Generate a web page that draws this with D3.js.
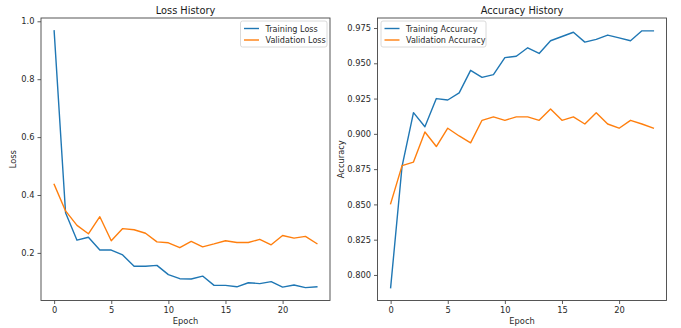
<!DOCTYPE html>
<html>
<head>
<meta charset="utf-8">
<script src="https://cdn.jsdelivr.net/npm/d3@7"></script>
<style>
  html, body { margin: 0; padding: 0; background: #fff; }
  svg { display: block; font-family: "DejaVu Sans", sans-serif; }
</style>
</head>
<body>
<svg id="chart" width="681" height="328"></svg>
<script>
// Training history, one value per epoch
const epochs = d3.range(24);
const trainLoss = [0.967, 0.339, 0.244, 0.254, 0.210, 0.210, 0.193, 0.154, 0.154, 0.157, 0.125, 0.111,
                   0.110, 0.120, 0.088, 0.088, 0.083, 0.097, 0.094, 0.101, 0.082, 0.089, 0.080, 0.083];
const valLoss = [0.437, 0.345, 0.295, 0.266, 0.325, 0.242, 0.284, 0.280, 0.268, 0.238, 0.235, 0.218,
                 0.240, 0.221, 0.231, 0.242, 0.236, 0.236, 0.247, 0.228, 0.260, 0.251, 0.257, 0.232];
const trainAcc = [0.791, 0.877, 0.915, 0.905, 0.925, 0.924, 0.929, 0.945, 0.940, 0.942, 0.954, 0.955,
                  0.961, 0.957, 0.966, 0.969, 0.972, 0.965, 0.967, 0.970, 0.968, 0.966, 0.973, 0.973];
const valAcc = [0.8505, 0.8775, 0.880, 0.9013, 0.891, 0.904, 0.8985, 0.8936, 0.9096, 0.912, 0.9096, 0.912,
                0.912, 0.9096, 0.9176, 0.9096, 0.912, 0.907, 0.915, 0.907, 0.904, 0.9096, 0.907, 0.904];
const xTicks = [0, 5, 10, 15, 20];
const lossTicks = [0.2, 0.4, 0.6, 0.8, 1.0];
const accTicks = [0.800, 0.825, 0.850, 0.875, 0.900, 0.925, 0.950, 0.975];

const BLUE = "#1f77b4", ORANGE = "#ff7f0e";
const TEXT = "#2a2a2a";
const svg = d3.select("#chart");

// 5% padding on each side of the data range
function padded(vals) {
  const [lo, hi] = d3.extent(vals);
  const m = (hi - lo) * 0.05;
  return [lo - m, hi + m];
}

function panel(opts) {
  const { left, right, top, bottom, title, ylabel, series, yTicks, yFmt, legendLeft, legendWidth } = opts;
  const g = svg.append("g");
  const x = d3.scaleLinear().domain(padded(epochs)).range([left, right]);
  const y = d3.scaleLinear().domain(padded(series.flatMap(s => s.values))).range([bottom, top]);

  // lines
  const line = d3.line().x((d, i) => x(epochs[i])).y(d => y(d));
  series.forEach(s => {
    g.append("path").datum(s.values)
      .attr("d", line)
      .attr("fill", "none")
      .attr("stroke", s.color)
      .attr("stroke-width", 1.4)
      .attr("stroke-linejoin", "round")
      .attr("stroke-linecap", "square");
  });

  // axes
  const xAxis = d3.axisBottom(x).tickValues(xTicks).tickSize(3.5).tickPadding(3).tickFormat(d3.format("d"));
  const yAxis = d3.axisLeft(y).tickValues(yTicks).tickSize(3.5).tickPadding(3).tickFormat(yFmt);
  const gx = g.append("g").attr("transform", `translate(0,${bottom})`).call(xAxis);
  const gy = g.append("g").attr("transform", `translate(${left},0)`).call(yAxis);
  [gx, gy].forEach(a => {
    a.select(".domain").remove();
    a.selectAll("line").attr("stroke", "#333").attr("stroke-width", 0.8);
    a.selectAll("text").attr("fill", TEXT).style("font-size", "8.3px").style("font-family", "DejaVu Sans");
  });

  // frame
  g.append("rect")
    .attr("x", left).attr("y", top)
    .attr("width", right - left).attr("height", bottom - top)
    .attr("fill", "none").attr("stroke", "#444").attr("stroke-width", 0.9);

  // titles
  g.append("text").attr("x", (left + right) / 2).attr("y", top - 4.5)
    .attr("text-anchor", "middle").style("font-size", "9.8px").attr("fill", "#1a1a1a").text(title);
  g.append("text").attr("x", (left + right) / 2).attr("y", bottom + 23)
    .attr("text-anchor", "middle").style("font-size", "8.3px").attr("fill", TEXT).text("Epoch");
  g.append("text")
    .attr("transform", `translate(${opts.ylabelX},${(top + bottom) / 2}) rotate(-90)`)
    .attr("text-anchor", "middle").style("font-size", "8.3px").attr("fill", TEXT).text(ylabel);

  // legend
  const lg = g.append("g").attr("transform", `translate(${legendLeft},${top + 3})`);
  lg.append("rect").attr("width", legendWidth).attr("height", 26).attr("rx", 2)
    .attr("fill", "#fff").attr("fill-opacity", 0.8).attr("stroke", "#d0d0d0").attr("stroke-width", 0.8);
  series.forEach((s, i) => {
    const yy = 7.5 + i * 11.5;
    lg.append("line").attr("x1", 3.5).attr("x2", 18.5).attr("y1", yy).attr("y2", yy)
      .attr("stroke", s.color).attr("stroke-width", 1.4);
    lg.append("text").attr("x", 25).attr("y", yy + 3)
      .style("font-size", "8.1px").attr("fill", TEXT).text(s.name);
  });
}

panel({
  left: 41, right: 330, top: 18, bottom: 300.5,
  title: "Loss History", ylabel: "Loss", ylabelX: 16,
  series: [
    { name: "Training Loss", values: trainLoss, color: BLUE },
    { name: "Validation Loss", values: valLoss, color: ORANGE }
  ],
  yTicks: lossTicks, yFmt: d3.format(".1f"),
  legendLeft: 240.5, legendWidth: 86.5
});

panel({
  left: 377.5, right: 666.5, top: 18, bottom: 300.5,
  title: "Accuracy History", ylabel: "Accuracy", ylabelX: 344,
  series: [
    { name: "Training Accuracy", values: trainAcc, color: BLUE },
    { name: "Validation Accuracy", values: valAcc, color: ORANGE }
  ],
  yTicks: accTicks, yFmt: d3.format(".3f"),
  legendLeft: 381, legendWidth: 105
});
</script>
</body>
</html>
